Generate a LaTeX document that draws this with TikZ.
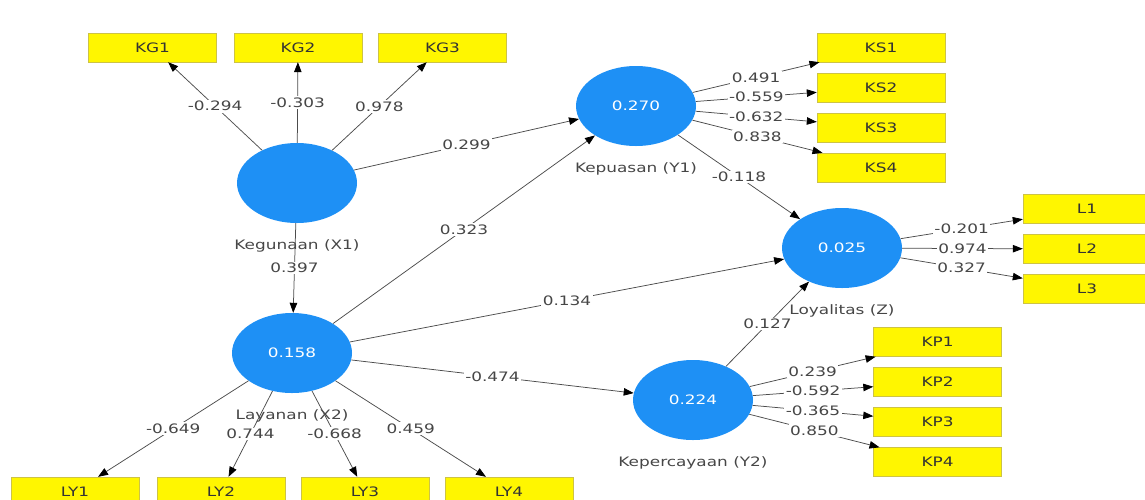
\documentclass[tikz,border=0pt]{standalone}
\usepackage{fontspec}
\setmainfont{DejaVu Sans}[FakeStretch=1.3]
\usetikzlibrary{shapes,arrows.meta}
\definecolor{plsblue}{RGB}{30,144,245}
\definecolor{plsyellow}{RGB}{255,246,0}
\definecolor{plsedge}{RGB}{205,195,70}
\definecolor{plstext}{RGB}{70,70,70}

\begin{document}
\begin{tikzpicture}[
    x=1pt, y=-1pt,
    font=\fontsize{13}{15}\selectfont,
	latent/.style={
	  ellipse,
	  fill=plsblue,
	  text=white,
	  minimum width=120pt,
	  minimum height=80pt,
	  inner sep=0pt
	},
	indicator/.style={
	  rectangle,
	  draw=plsedge,
	  fill=plsyellow,
	  text=black!80,
	  minimum width=128pt,
	  minimum height=29pt,
	  inner sep=0pt
	},
	lvname/.style={text=plstext},
	coef/.style={fill=white, text=plstext, inner sep=1.5pt},
 	link/.style={draw=black!70, line width=0.75pt,
 	  -{Triangle[length=10pt, width=7.5pt, color=black]}}
	]
	\useasboundingbox (0, 0) rectangle (1145, 499);
	\clip (0, 0) rectangle (1145, 499);
	% latent variables
	\node [latent] at (297, 183) (x1) {};
	\node [latent] at (636, 106) (y1) {0.270};
	\node [latent] at (842, 248) (z) {0.025};
	\node [latent] at (292, 353) (x2) {0.158};
	\node [latent] at (693, 400) (y2) {0.224};
	\node [lvname] at (297, 246) (x1name) {Kegunaan (X1)};
	\node [lvname] at (636, 169) (y1name) {Kepuasan (Y1)};
	\node [lvname] at (842, 311) (zname) {Loyalitas (Z)};
	\node [lvname] at (292, 416) (x2name) {Layanan (X2)};
	\node [lvname] at (693, 463) (y2name) {Kepercayaan (Y2)};
	% indicators
	\node [indicator] at (152.5, 47.5) (kg1) {KG1};
	\node [indicator] at (298, 47.5) (kg2) {KG2};
	\node [indicator] at (442.5, 47.5) (kg3) {KG3};
	\node [indicator] at (881, 47.5) (ks1) {KS1};
	\node [indicator] at (881, 87.5) (ks2) {KS2};
	\node [indicator] at (881, 127.5) (ks3) {KS3};
	\node [indicator] at (881, 167.5) (ks4) {KS4};
	\node [indicator] at (1087, 209) (l1) {L1};
	\node [indicator] at (1087, 249) (l2) {L2};
	\node [indicator] at (1087, 289) (l3) {L3};
	\node [indicator] at (937.5, 342) (kp1) {KP1};
	\node [indicator] at (937.5, 382) (kp2) {KP2};
	\node [indicator] at (937.5, 422) (kp3) {KP3};
	\node [indicator] at (937.5, 462) (kp4) {KP4};
	\node [indicator] at (75, 491.5) (ly1) {LY1};
	\node [indicator] at (221, 491.5) (ly2) {LY2};
	\node [indicator] at (365, 491.5) (ly3) {LY3};
	\node [indicator] at (509, 491.5) (ly4) {LY4};
	% inner model
	\path[link] (x1) -- node[coef] {0.299} (y1);
	\path[link] (x1) -- node[coef] {0.397} (x2);
	\path[link] (x2) -- node[coef] {0.323} (y1);
	\path[link] (x2) -- node[coef] {0.134} (z);
	\path[link] (x2) -- node[coef] {-0.474} (y2);
	\path[link] (y1) -- node[coef] {-0.118} (z);
	\path[link] (y2) -- node[coef] {0.127} (z);
	% outer model
	\path[link] (x1) -- node[coef] {-0.294} (kg1);
	\path[link] (x1) -- node[coef] {-0.303} (kg2);
	\path[link] (x1) -- node[coef] {0.978} (kg3);
	\path[link] (y1) -- node[coef] {0.491} (ks1);
	\path[link] (y1) -- node[coef] {-0.559} (ks2);
	\path[link] (y1) -- node[coef] {-0.632} (ks3);
	\path[link] (y1) -- node[coef] {0.838} (ks4);
	\path[link] (z) -- node[coef] {-0.201} (l1);
	\path[link] (z) -- node[coef] {0.974} (l2);
	\path[link] (z) -- node[coef] {0.327} (l3);
	\path[link] (y2) -- node[coef] {0.239} (kp1);
	\path[link] (y2) -- node[coef] {-0.592} (kp2);
	\path[link] (y2) -- node[coef] {-0.365} (kp3);
	\path[link] (y2) -- node[coef] {0.850} (kp4);
	\path[link] (x2) -- node[coef] {-0.649} (ly1);
	\path[link] (x2) -- node[coef] {0.744} (ly2);
	\path[link] (x2) -- node[coef] {-0.668} (ly3);
	\path[link] (x2) -- node[coef] {0.459} (ly4);
  \end{tikzpicture}
\end{document}
